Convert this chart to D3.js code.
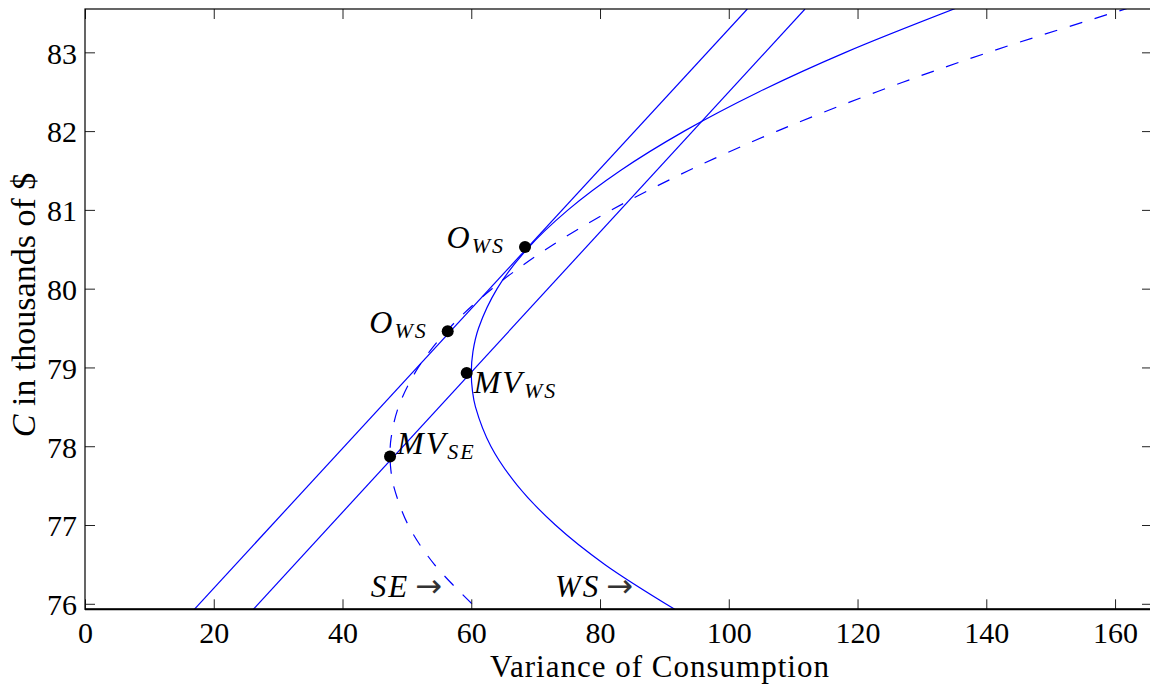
<!DOCTYPE html>
<html>
<head>
<meta charset="utf-8">
<script src="https://cdn.jsdelivr.net/npm/d3@7"></script>
<style>
  html, body { margin: 0; padding: 0; background: #fff; overflow: hidden; }
  svg { display: block; }
  text { font-family: "Liberation Serif", "Times New Roman", Times, "DejaVu Serif", serif; fill: #000; }
</style>
</head>
<body>
<svg id="chart" width="1150" height="684"></svg>
<script>
// ---------------- data ----------------
const xTicks = [0, 20, 40, 60, 80, 100, 120, 140, 160];
const yTicks = [76, 77, 78, 79, 80, 81, 82, 83];

// WS frontier (solid): consumption C and variance
const wsC   = [75.9, 76.5, 77.0, 77.5, 78.0, 78.5, 78.7, 78.93, 79.2, 79.5, 80.0, 80.5, 81.0, 81.5, 82.0, 82.5, 83.0, 83.6];
const wsVar = [92.22, 80.73, 73.07, 67.18, 63.04, 60.65, 60.19, 60.0, 60.26, 61.14, 64.02, 68.65, 75.04, 83.18, 93.08, 104.73, 118.14, 136.55];

// SE frontier (dashed)
const seC   = [76.0, 76.5, 77.0, 77.5, 77.7, 77.89, 78.1, 78.5, 79.0, 79.5, 80.0, 80.5, 81.0, 81.5, 82.0, 82.5, 83.0, 83.7];
const seVar = [60.10, 54.26, 50.20, 47.92, 47.51, 47.38, 47.54, 48.70, 51.77, 56.61, 63.23, 71.63, 81.81, 93.77, 107.52, 123.04, 140.34, 167.55];

// straight lines (through O points, and through MV points)
const line1Var = [16.98, 102.88];
const line1C   = [75.93, 83.55];
const line2Var = [26.15, 111.84];
const line2C   = [75.93, 83.55];

// marked points
const pointNames = ["O_WS_upper", "O_WS_lower", "MV_WS", "MV_SE"];
const pointVar   = [68.35, 56.34, 59.29, 47.38];
const pointC     = [80.53, 79.46, 78.93, 77.87];
const pointMain  = ["O", "O", "MV", "MV"];
const pointSub   = ["WS", "WS", "WS", "SE"];

// arrow annotations near the axis
const arrowText = ["SE", "WS"];
const arrowVar  = [44.38, 73.0];
const arrowC    = [76.09, 76.09];

// ---------------- layout ----------------
const FONT = '"Liberation Serif", "Times New Roman", Times, "DejaVu Serif", serif';
const svg = d3.select("#chart");
const L = 85, R = 1152, T = 9, B = 609.3;
const x = d3.scaleLinear().domain([0, 165.74]).range([L, R]);
const y = d3.scaleLinear().domain([75.93, 83.55]).range([B, T]);

svg.append("defs").append("clipPath").attr("id", "clip")
  .append("rect").attr("x", L).attr("y", T).attr("width", R - L).attr("height", B - T);

const plot = svg.append("g").attr("clip-path", "url(#clip)");
const blue = "#0000ff";

const lineGen = d3.line().x(d => x(d[0])).y(d => y(d[1])).curve(d3.curveCatmullRom.alpha(0.5));
const straight = d3.line().x(d => x(d[0])).y(d => y(d[1]));

plot.append("path").datum(d3.zip(line1Var, line1C)).attr("d", straight)
  .attr("fill", "none").attr("stroke", blue).attr("stroke-width", 1.2);
plot.append("path").datum(d3.zip(line2Var, line2C)).attr("d", straight)
  .attr("fill", "none").attr("stroke", blue).attr("stroke-width", 1.2);
plot.append("path").datum(d3.zip(wsVar, wsC)).attr("d", lineGen)
  .attr("fill", "none").attr("stroke", blue).attr("stroke-width", 1.2);
plot.append("path").datum(d3.zip(seVar, seC)).attr("d", lineGen)
  .attr("fill", "none").attr("stroke", blue).attr("stroke-width", 1.2)
  .attr("stroke-dasharray", "13,13");

// axes (inward ticks)
const tickColor = "#222";
function styleAxis(g) {
  g.select(".domain").remove();
  g.selectAll(".tick line").attr("stroke", tickColor).attr("stroke-width", 1);
  g.selectAll(".tick text").style("font-family", FONT)
    .style("font-size", "30px").attr("fill", "#000");
}
svg.append("g").attr("transform", `translate(0,${B})`)
  .call(d3.axisBottom(x).tickValues(xTicks).tickSizeInner(-10).tickSizeOuter(0).tickPadding(12).tickFormat(d3.format("d")))
  .call(styleAxis);
svg.append("g").attr("transform", `translate(0,${T})`)
  .call(d3.axisTop(x).tickValues(xTicks).tickSizeInner(-10).tickSizeOuter(0).tickFormat(""))
  .call(styleAxis);
svg.append("g").attr("transform", `translate(${L},0)`)
  .call(d3.axisLeft(y).tickValues(yTicks).tickSizeInner(-10).tickSizeOuter(0).tickPadding(8).tickFormat(d3.format("d")))
  .call(styleAxis)
  .selectAll(".tick text").attr("dy", "0.36em");
svg.append("g").attr("transform", `translate(${R},0)`)
  .call(d3.axisRight(y).tickValues(yTicks).tickSizeInner(-10).tickSizeOuter(0).tickFormat(""))
  .call(styleAxis);

// spines
svg.append("rect").attr("x", L).attr("y", T).attr("width", R - L).attr("height", B - T)
  .attr("fill", "none").attr("stroke", "#000").attr("stroke-width", 1.2);
svg.append("line").attr("x1", L).attr("x2", R).attr("y1", B).attr("y2", B)
  .attr("stroke", "#000").attr("stroke-width", 2);

// points
svg.selectAll("circle.pt").data(d3.range(pointVar.length)).join("circle")
  .attr("class", "pt")
  .attr("cx", i => x(pointVar[i])).attr("cy", i => y(pointC[i]))
  .attr("r", 6).attr("fill", "#000");

// point labels
const labelPlace = {
  O_WS_upper: { dx: -20, dy: 1, anchor: "end" },
  O_WS_lower: { dx: -20, dy: 2, anchor: "end" },
  MV_WS:      { dx: 7,   dy: 20, anchor: "start" },
  MV_SE:      { dx: 7,   dy: -2, anchor: "start" }
};
pointNames.forEach((name, i) => {
  const p = labelPlace[name];
  const t = svg.append("text")
    .attr("x", x(pointVar[i]) + p.dx).attr("y", y(pointC[i]) + p.dy)
    .attr("text-anchor", p.anchor)
    .style("font-family", FONT)
    .attr("font-style", "italic").attr("font-size", 32).attr("letter-spacing", 2);
  t.append("tspan").text(pointMain[i]);
  t.append("tspan").attr("font-size", 22).attr("dy", 5).text(pointSub[i]);
});

// arrow labels
arrowText.forEach((s, i) => {
  const t = svg.append("text")
    .attr("x", x(arrowVar[i])).attr("y", y(arrowC[i]))
    .style("font-family", FONT)
    .attr("font-size", 31);
  t.append("tspan").attr("font-style", "italic").attr("letter-spacing", 2).text(s);
  t.append("tspan").attr("dx", 6).style("font-family", '"DejaVu Sans", sans-serif')
    .attr("font-size", 32).attr("fill", "#333").text("\u2192");
});

// axis titles
svg.append("text").attr("x", 660).attr("y", 677).attr("text-anchor", "middle")
  .style("font-family", FONT).attr("font-size", 31).attr("letter-spacing", 1)
  .text("Variance of Consumption");
const yl = svg.append("text").attr("transform", "translate(35,305) rotate(-90)")
  .style("font-family", FONT)
  .attr("text-anchor", "middle").attr("font-size", 34);
yl.append("tspan").attr("font-style", "italic").text("C");
yl.append("tspan").text(" in thousands of $");
</script>
</body>
</html>
